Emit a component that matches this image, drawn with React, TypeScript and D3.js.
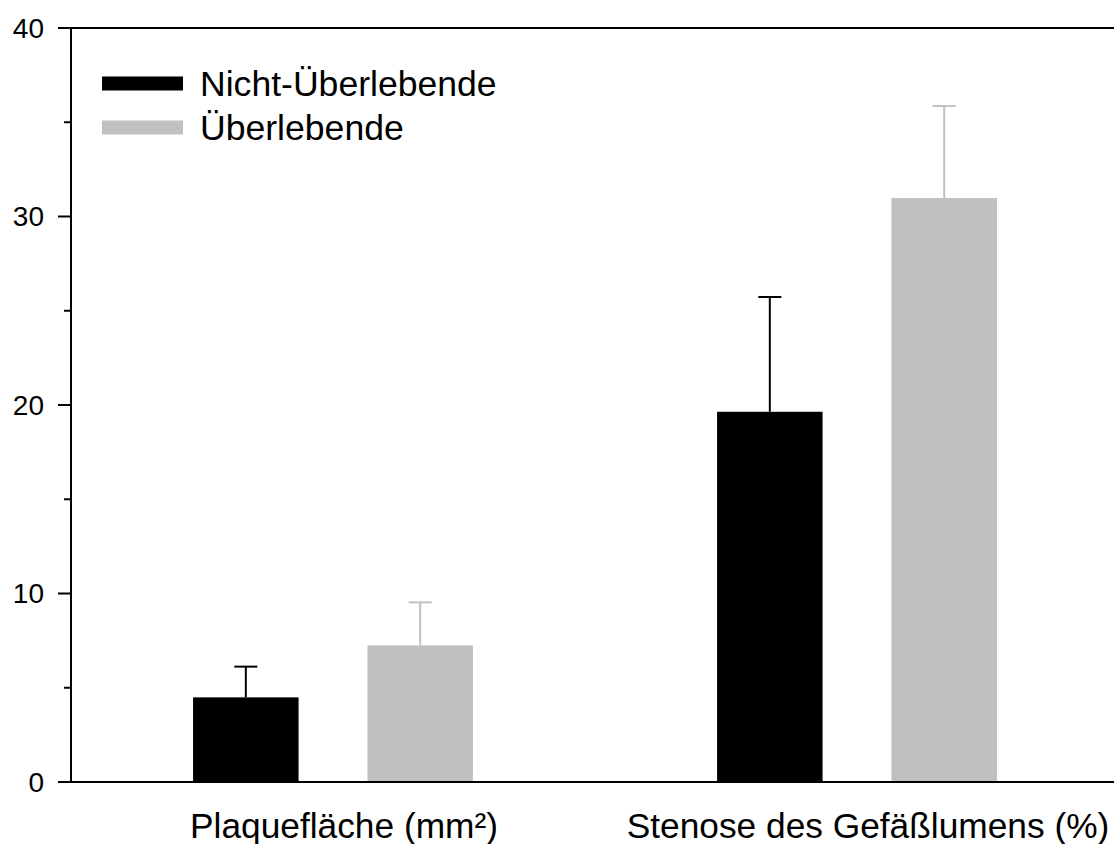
import React from "react";
import * as d3 from "d3";

// Group labels along the x axis
const categories = ["Plaquefläche (mm²)", "Stenose des Gefäßlumens (%)"];
// Series names (legend order)
const seriesNames = ["Nicht-Überlebende", "Überlebende"];
// Mean values per category
const nonSurvivorMeans = [4.49, 19.64];
const survivorMeans = [7.25, 30.98];
// Upper error (SD) per category
const nonSurvivorErr = [1.63, 6.09];
const survivorErr = [2.28, 4.88];
// Y axis ticks
const majorTicks = [0, 10, 20, 30, 40];
const minorTicks = [5, 15, 25, 35];

const seriesColors = ["#000000", "#c0c0c0"];

export default function App() {
  const width = 1114;
  const height = 844;
  const x0 = 71;
  const yTop = 28;
  const yBottom = 782;
  const font = "'Liberation Sans', Arial, Helvetica, sans-serif";

  const y = d3.scaleLinear().domain([0, 40]).range([yBottom, yTop]);
  const xBand = d3.scaleBand<string>().domain(categories).range([x0, x0 + 1048]).padding(0);
  const xSeries = d3
    .scaleBand<string>()
    .domain(seriesNames)
    .range([0, xBand.bandwidth()])
    .paddingInner(0.395)
    .paddingOuter(0.7);

  const series = [
    { name: seriesNames[0], means: nonSurvivorMeans, errs: nonSurvivorErr, color: seriesColors[0] },
    { name: seriesNames[1], means: survivorMeans, errs: survivorErr, color: seriesColors[1] },
  ];

  const bw = xSeries.bandwidth();
  const capHalf = 11.5;

  return (
    <svg
      width={width}
      height={height}
      style={{ position: "absolute", left: 0, top: 0, background: "#fff" }}
      fontFamily={font}
    >
      {/* bars with upper error bars */}
      {series.map((s) =>
        categories.map((c, i) => {
          const bx = (xBand(c) as number) + (xSeries(s.name) as number);
          const cx = bx + bw / 2;
          const top = y(s.means[i]);
          const errTop = y(s.means[i] + s.errs[i]);
          return (
            <g key={s.name + c}>
              <rect x={bx} y={top} width={bw} height={yBottom - top} fill={s.color} />
              <line x1={cx} x2={cx} y1={top} y2={errTop} stroke={s.color} strokeWidth={2} />
              <line x1={cx - capHalf} x2={cx + capHalf} y1={errTop} y2={errTop} stroke={s.color} strokeWidth={2} />
            </g>
          );
        })
      )}

      {/* frame lines */}
      <line x1={58} x2={width} y1={y(40)} y2={y(40)} stroke="#000" strokeWidth={2} />
      <line x1={58} x2={width} y1={y(0)} y2={y(0)} stroke="#000" strokeWidth={2} />
      <line x1={x0} x2={x0} y1={y(40)} y2={y(0)} stroke="#000" strokeWidth={2} />

      {/* y ticks */}
      {majorTicks.map((t) => (
        <g key={"M" + t}>
          <line x1={58} x2={x0} y1={y(t)} y2={y(t)} stroke="#000" strokeWidth={2} />
          <text x={44} y={y(t)} textAnchor="end" dominantBaseline="central" fontSize={28} fill="#000">
            {t}
          </text>
        </g>
      ))}
      {minorTicks.map((t) => (
        <line key={"m" + t} x1={64} x2={x0} y1={y(t)} y2={y(t)} stroke="#000" strokeWidth={2} />
      ))}

      {/* category labels */}
      {categories.map((c) => (
        <text
          key={c}
          x={(xBand(c) as number) + xBand.bandwidth() / 2 + 11}
          y={838}
          textAnchor="middle"
          fontSize={35.3}
          fill="#000"
        >
          {c}
        </text>
      ))}

      {/* legend */}
      {series.map((s, i) => {
        const ly = 83.5 + i * 44;
        return (
          <g key={"lg" + s.name}>
            <rect x={102} y={ly - 7} width={81} height={14} fill={s.color} />
            <text x={200} y={ly} dominantBaseline="central" fontSize={35.6} fill="#000">
              {s.name}
            </text>
          </g>
        );
      })}
    </svg>
  );
}
